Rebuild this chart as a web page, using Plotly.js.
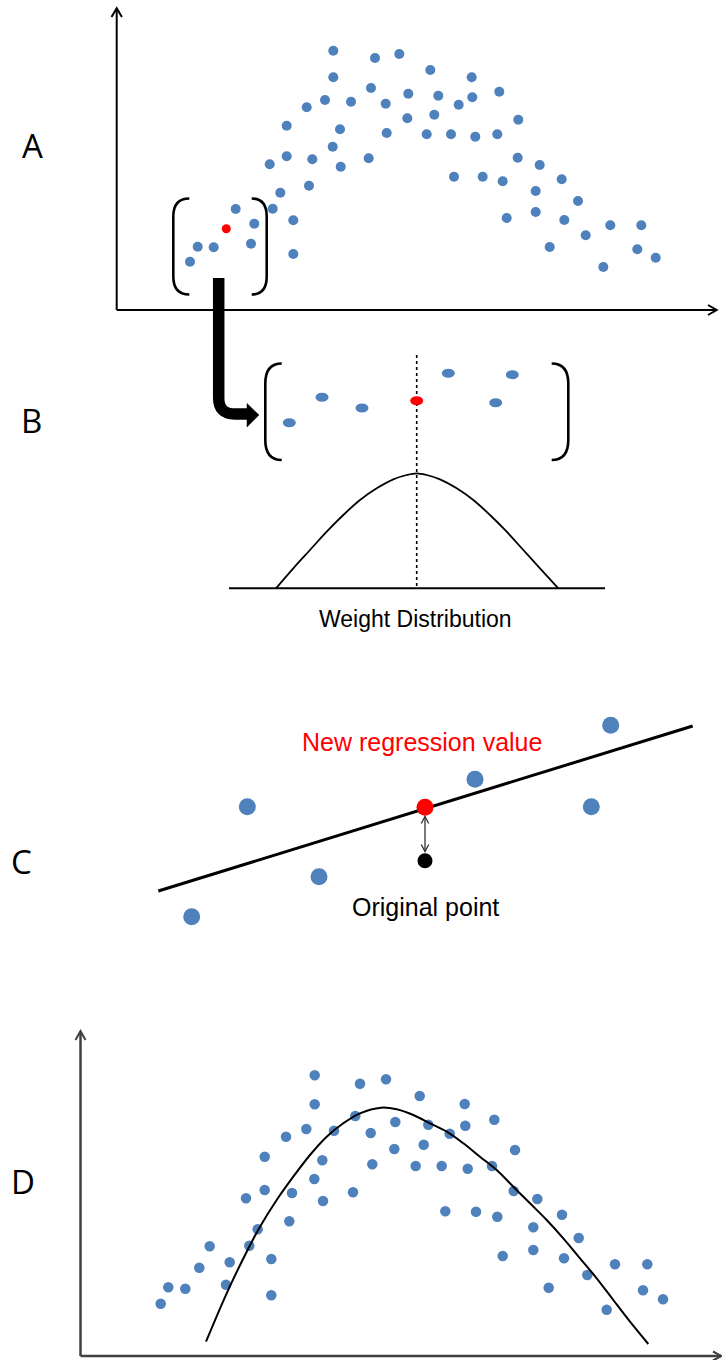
<!DOCTYPE html>
<html>
<head>
<meta charset="utf-8">
<script src="https://cdn.plot.ly/plotly-3.0.1.min.js"></script>
<style>
  html, body { margin: 0; padding: 0; background: #ffffff; }
  #chart { width: 722px; height: 1360px; }
</style>
</head>
<body>
<div id="chart"></div>
<script>
// ---- Panel A: raw observations (canvas units, y grows downward) ----
const aX = [333.3, 375, 399.3, 333.3, 371, 408.3, 325, 306.7, 351, 385.7,
            407.3, 286.7, 340, 386.7, 332.7, 286.7, 312.3, 269.7, 340.7, 368.7,
            309, 280.3, 272.7, 235.7, 254.3, 293.3, 251, 197.7, 213.7, 190,
            293.3,
            430.3, 471.7, 438.3, 458.7, 472.3, 499.3, 434.3, 518.3, 426.7, 451,
            475.3, 497.3, 517.7, 539.7, 561.7, 454, 482.7, 502.7, 535.7, 578,
            506.7, 535.7, 564.3, 610.3, 641.3, 585.7, 549.7, 637.3, 655.7, 603.3];
const aY = [50.7, 58, 54, 77.3, 88, 93.7, 100, 107.3, 101.7, 103.7,
            118.3, 125.7, 129.3, 133, 146.7, 156.3, 159.3, 164.3, 166.7, 158.3,
            185.7, 192.7, 208.7, 209, 223.7, 220.3, 243.7, 246.7, 247.3, 261.7,
            254,
            70, 77.3, 95.7, 104.7, 97.3, 91.7, 114.7, 119.7, 134.3, 134.3,
            136.7, 134.3, 157.7, 165, 179.3, 176.7, 176.7, 181.3, 191, 201,
            218, 212, 220, 225.3, 225.3, 235.3, 247, 249.3, 257.7, 267];
const aFocusX = [226.3];
const aFocusY = [228.7];

// ---- Panel B: local window around the focus point ----
const bX = [289.3, 322, 362, 448.3, 512.3, 495.7];
const bY = [422.7, 397.3, 408, 373.3, 374.7, 402.7];
const bFocusX = [416.7];
const bFocusY = [400.7];
const weightX = [276, 293.3, 310, 326.7, 343.3, 360, 376.7, 393.3, 406.7, 416.7,
                 426.7, 440, 456.7, 473.3, 490, 506.7, 523.3, 540, 558.3];
const weightY = [588.3, 568.3, 550, 531.7, 515, 500, 488.3, 479.3, 475, 473.3,
                 475, 479.3, 488.3, 500, 515, 531.7, 550, 568.3, 588.3];

// ---- Panel C: weighted local fit ----
const cX = [191.7, 247.3, 319, 475, 591.3, 610.7];
const cY = [916.7, 806.7, 876.7, 779.3, 806.7, 725.3];
const fitX = [158.3, 692.7];
const fitY = [891, 726];
const newValueX = [425];
const newValueY = [807.3];
const origValueX = [425];
const origValueY = [860.7];

// ---- Panel D: observations with the smoothed curve ----
const dX = [314.7, 360, 386, 314.7, 355.3, 395.3, 306.3, 334, 370.7, 286,
            394.3, 264.7, 322.3, 372.3, 314.3, 264.7, 246, 292, 353, 323,
            289.3, 257.7, 209.7, 249.3, 199.3, 229.7, 271.3, 168.3, 185.3, 226,
            160.7, 271.3,
            419.7, 464.7, 428.3, 449.7, 465.3, 494.3, 423.7, 515, 415.7, 441.7,
            467.7, 492, 513.7, 537.3, 562, 445.3, 476, 497.3, 533.3, 578.7,
            502.7, 533.3, 564, 587.3, 615, 647.3, 548.7, 643, 663, 606.7];
const dY = [1075.3, 1083.7, 1079.3, 1104.3, 1116, 1122, 1129, 1130.7, 1133, 1136.7,
            1149, 1156.7, 1160.3, 1164.3, 1179, 1190, 1198.3, 1193, 1192.3, 1201,
            1221.3, 1229.3, 1246.3, 1245.7, 1267.7, 1262.3, 1259, 1287.3, 1288.7, 1284.7,
            1303.7, 1295.3,
            1096, 1104, 1124.7, 1133.7, 1125.7, 1119.7, 1144.7, 1150, 1166, 1166,
            1168.7, 1166, 1191, 1199, 1214.7, 1211.3, 1211.7, 1216.7, 1227.3, 1238,
            1256, 1250, 1258.3, 1275, 1264.3, 1264.3, 1287.7, 1290.3, 1299.3, 1309.7];
const smoothX = [206, 226.7, 246.7, 260, 276.7, 293.3, 310, 326.7, 343.3, 360,
                 381, 396.7, 413.3, 430, 446.7, 463.3, 480, 496.7, 513.3, 530,
                 546.7, 563.3, 580, 596.7, 613.3, 630, 648.3];
const smoothY = [1341.7, 1293.3, 1251.7, 1226.7, 1200, 1176.7, 1155, 1136.7, 1123.3, 1113.3,
                 1107.7, 1109.3, 1115, 1123.3, 1131.7, 1143.3, 1156.7, 1170, 1186.7, 1203.3,
                 1220, 1238.3, 1258.3, 1278.3, 1300, 1321.7, 1344];

// ---- Text ----
const panelLabels = ['A', 'B', 'C', 'D'];
const weightLabel = 'Weight Distribution';
const newValueLabel = 'New regression value';
const origValueLabel = 'Original point';

const BLUE = '#4f81bd';
const RED = '#ff0000';

function dots(x, y, size, color) {
  return {
    type: 'scatter', mode: 'markers', x: x, y: y, cliponaxis: false,
    hoverinfo: 'skip',
    marker: { size: size, color: color, line: { width: 0 } }
  };
}
function curve(x, y, width, color, shape) {
  return {
    type: 'scatter', mode: 'lines', x: x, y: y, cliponaxis: false,
    hoverinfo: 'skip',
    line: { width: width, color: color, shape: shape || 'linear', smoothing: 1 }
  };
}

const traces = [
  dots(aX, aY, 10, BLUE),
  dots(aFocusX, aFocusY, 9, RED),
  curve(weightX, weightY, 1.8, '#000000', 'spline'),
  curve(fitX, fitY, 3, '#000000'),
  dots(cX, cY, 17, BLUE),
  dots(origValueX, origValueY, 15, '#000000'),
  dots(newValueX, newValueY, 17, RED),
  dots(dX, dY, 10.5, BLUE),
  curve(smoothX, smoothY, 2, '#000000', 'spline')
];

// Ellipses for the zoomed window in B, built from its point arrays
function ellipse(x, y, color) {
  return { type: 'circle', xref: 'x', yref: 'y', x0: x - 6.5, x1: x + 6.5,
           y0: y - 4.5, y1: y + 4.5, fillcolor: color, line: { width: 0 }, layer: 'above' };
}
function path(d, width, color, fill, dash) {
  return { type: 'path', xref: 'x', yref: 'y', path: d, layer: 'above',
           fillcolor: fill || 'rgba(0,0,0,0)',
           line: { width: width, color: color, dash: dash || 'solid' } };
}
// Left/right square brackets with rounded ends
function bracketL(xv, xe, y0, y1, r) {
  return path(`M${xe},${y0} Q${xv},${y0} ${xv},${y0 + r} L${xv},${y1 - r} Q${xv},${y1} ${xe},${y1}`, 2.6, '#000000');
}
function bracketR(xv, xe, y0, y1, r) {
  return path(`M${xe},${y0} Q${xv},${y0} ${xv},${y0 + r} L${xv},${y1 - r} Q${xv},${y1} ${xe},${y1}`, 2.6, '#000000');
}

const shapes = [
  // panel A axes
  path('M116.7,310 L116.7,8.5', 2, '#000000'),
  path('M111.5,17 L116.7,8.3 L121.9,17', 2, '#000000'),
  path('M116.7,310 L716.5,310', 2, '#000000'),
  path('M708,305 L716.7,310 L708,315', 2, '#000000'),
  // bracket around the local window in A
  bracketL(173.3, 189.3, 198.5, 294.5, 18),
  bracketR(266.7, 251.7, 198.5, 294.5, 18),
  // thick arrow from A down to B
  path('M218.7,278 L218.7,398 Q218.7,414 234.7,414 L249,414', 11.5, '#000000'),
  path('M247,403.5 L259,415 L247,427 Z', 0.5, '#000000', '#000000'),
  // brackets in B
  bracketL(265.3, 281.7, 363.5, 460, 20),
  bracketR(568.3, 551.7, 363.5, 460, 20),
  // baseline and dotted centre line of the weight function
  path('M229,588.3 L605,588.3', 2, '#000000'),
  path('M416.7,355 L416.7,588', 1.6, '#000000', null, 'dot'),
  // double-headed arrow between original and fitted value in C
  path('M425,816.5 L425,851.5', 1.3, '#333333'),
  path('M421.3,823.5 L425,816.5 L428.7,823.5', 1.3, '#333333'),
  path('M421.3,844.5 L425,851.5 L428.7,844.5', 1.3, '#333333'),
  // panel D axes
  path('M80.5,1356 L80.5,1031.5', 2.5, '#404040'),
  path('M75.5,1040 L80.5,1031 L85.5,1040', 2, '#404040'),
  path('M80.5,1356 L721,1356', 2.5, '#404040'),
  path('M713,1351.5 L721.5,1356 L713,1360.5', 2, '#404040')
];
for (let i = 0; i < bX.length; i++) shapes.push(ellipse(bX[i], bY[i], BLUE));
shapes.push(ellipse(bFocusX[0], bFocusY[0], RED));

const labelFont = { family: 'Open Sans, Noto Sans, sans-serif', size: 33, color: '#000000' };
const textFont = { family: 'Liberation Sans, Arial, sans-serif', size: 25, color: '#000000' };
const labelPos = [[32, 145], [31, 420.5], [21, 861.5], [23, 1181.5]];

const annotations = panelLabels.map((t, i) => ({
  text: t, x: labelPos[i][0], y: labelPos[i][1], xref: 'x', yref: 'y',
  showarrow: false, xanchor: 'center', yanchor: 'middle', font: labelFont
}));
annotations.push(
  { text: weightLabel, x: 415, y: 618.5, xref: 'x', yref: 'y', showarrow: false,
    xanchor: 'center', yanchor: 'middle',
    font: Object.assign({}, textFont, { size: 23 }) },
  { text: newValueLabel, x: 421.5, y: 741.5, xref: 'x', yref: 'y', showarrow: false,
    xanchor: 'center', yanchor: 'middle',
    font: Object.assign({}, textFont, { color: RED }) },
  { text: origValueLabel, x: 425.5, y: 906.5, xref: 'x', yref: 'y', showarrow: false,
    xanchor: 'center', yanchor: 'middle', font: textFont }
);

const layout = {
  width: 722, height: 1360,
  margin: { l: 0, r: 0, t: 0, b: 0, pad: 0 },
  paper_bgcolor: '#ffffff', plot_bgcolor: '#ffffff',
  showlegend: false,
  xaxis: { range: [0, 722], visible: false, fixedrange: true },
  yaxis: { range: [1360, 0], visible: false, fixedrange: true },
  shapes: shapes,
  annotations: annotations
};

Plotly.newPlot('chart', traces, layout, { staticPlot: true, displayModeBar: false });
</script>
</body>
</html>
